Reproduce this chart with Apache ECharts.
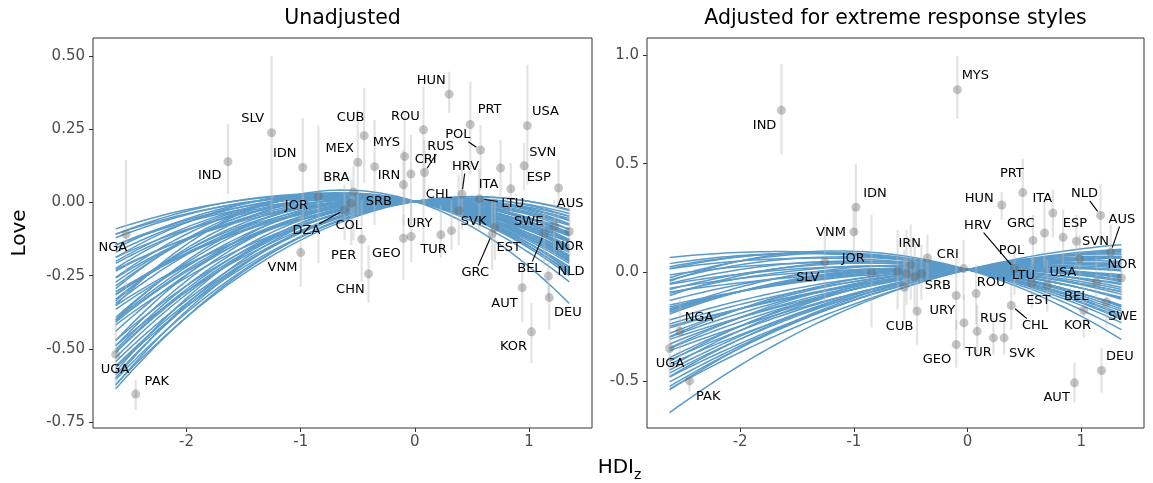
<!DOCTYPE html>
<html>
<head>
<meta charset="utf-8">
<script src="https://cdn.jsdelivr.net/npm/echarts@6/dist/echarts.min.js"></script>
<style>
  html, body { margin: 0; padding: 0; background: #fff; }
  #chart { width: 1153px; height: 483px; }
</style>
</head>
<body>
<div id="chart"></div>
<script>
// ---- data ----
const countries = ['UGA','NGA','PAK','IND','SLV','VNM','IDN','JOR','DZA','COL','BRA','MEX','PER','CUB','CHN',
  'IRN','SRB','GEO','MYS','CRI','URY','ROU','RUS','TUR','HUN','SVK','CHL','HRV','PRT','LTU','POL','GRC','EST',
  'ITA','ESP','AUT','SVN','USA','KOR','BEL','NLD','DEU','SWE','AUS','NOR'];
const hdi = [-2.62,-2.53,-2.445,-1.637,-1.255,-1.0,-0.982,-0.845,-0.616,-0.557,-0.537,-0.50,-0.466,-0.444,-0.406,
  -0.353,-0.10,-0.10,-0.09,-0.035,-0.032,0.075,0.084,0.227,0.30,0.321,0.384,0.412,0.485,0.565,0.575,0.676,0.70,
  0.75,0.84,0.94,0.957,0.985,1.021,1.132,1.169,1.177,1.221,1.258,1.352];

// unadjusted
const loveRaw = [-0.519,-0.108,-0.655,0.140,0.239,-0.171,0.120,0.022,-0.025,-0.002,0.036,0.138,-0.125,0.229,-0.244,
  0.123,0.061,-0.122,0.158,0.098,-0.116,0.249,0.103,-0.110,0.371,-0.096,-0.027,0.029,0.267,0.013,0.180,-0.107,-0.086,
  0.118,0.047,-0.291,0.126,0.263,-0.442,-0.105,-0.251,-0.325,-0.080,0.050,-0.099];
const loveRawLo = [-0.639,-0.333,-0.709,0.030,-0.035,-0.289,-0.076,-0.207,-0.128,-0.145,-0.128,-0.042,-0.272,0.067,-0.343,
  -0.076,-0.076,-0.265,-0.008,-0.076,-0.203,-0.145,-0.008,-0.189,0.307,-0.162,-0.145,-0.093,0.095,-0.093,0.043,-0.230,-0.196,
  0.009,-0.035,-0.409,0.043,0.061,-0.549,-0.213,-0.333,-0.436,-0.179,-0.059,-0.179];
const loveRawHi = [-0.395,0.146,-0.607,0.269,0.502,-0.042,0.290,0.263,0.061,0.078,0.126,0.317,0.009,0.393,-0.145,
  0.283,0.180,-0.042,0.317,0.232,0.009,0.400,0.215,-0.008,0.448,0.009,0.095,0.146,0.413,0.112,0.266,0.026,0.009,
  0.215,0.136,-0.196,0.204,0.472,-0.343,-0.008,-0.162,-0.285,0.009,0.146,-0.008];
// repelled label spots [hdi, love] for the unadjusted panel
const rawLabelSpots = [[-2.627,-0.571],[-2.645,-0.155],[-2.26,-0.611],[-1.796,0.091],[-1.42,0.287],[-1.16,-0.223],
  [-1.14,0.167],[-1.038,-0.010],[-0.95,-0.096],[-0.58,-0.080],[-0.688,0.084],[-0.659,0.186],[-0.624,-0.183],
  [-0.563,0.291],[-0.565,-0.297],[-0.227,0.091],[-0.315,0.003],[-0.25,-0.173],[-0.25,0.205],[0.094,0.146],
  [0.041,-0.071],[-0.084,0.295],[0.225,0.190],[0.164,-0.160],[0.143,0.418],[0.514,-0.065],[0.21,0.026],
  [0.444,0.123],[0.654,0.317],[0.857,-0.004],[0.376,0.232],[0.528,-0.240],[0.822,-0.154],[0.645,0.061],
  [1.085,0.086],[0.785,-0.345],[1.12,0.171],[1.143,0.310],[0.864,-0.493],[1.003,-0.225],[1.368,-0.236],
  [1.339,-0.377],[0.997,-0.065],[1.36,-0.002],[1.353,-0.151]];
const rawLeaders = ['DZA','RUS','HRV','LTU','POL','GRC','BEL'];

// adjusted for extreme response styles
const loveAdj = [-0.351,-0.272,-0.500,0.746,0.048,0.186,0.300,-0.003,0.005,-0.069,-0.006,0.035,-0.021,-0.179,-0.006,
  0.066,-0.107,-0.333,0.841,0.017,-0.233,-0.098,-0.272,-0.302,0.310,-0.302,-0.153,0.017,0.367,-0.049,0.147,0.181,-0.061,
  0.273,0.161,-0.509,0.143,0.062,-0.175,-0.046,0.262,-0.452,-0.138,0.092,-0.026];
const loveAdjLo = [-0.480,-0.402,-0.549,0.542,-0.139,0.081,0.173,-0.254,-0.172,-0.218,-0.149,-0.126,-0.172,-0.333,-0.126,
  -0.057,-0.264,-0.439,0.707,-0.126,-0.356,-0.241,-0.393,-0.379,0.243,-0.379,-0.264,-0.103,0.220,-0.162,0.035,0.022,-0.181,
  0.160,0.035,-0.600,0.022,-0.057,-0.301,-0.172,0.127,-0.554,-0.254,-0.034,-0.126];
const loveAdjHi = [-0.208,-0.126,-0.480,0.960,0.224,0.298,0.500,0.266,0.196,0.104,0.196,0.220,0.150,-0.034,0.127,
  0.173,0.068,-0.218,0.997,0.150,-0.103,0.035,-0.149,-0.208,0.371,-0.208,-0.057,0.127,0.523,0.068,0.265,0.335,0.058,
  0.381,0.289,-0.416,0.265,0.173,-0.057,0.068,0.408,-0.347,-0.024,0.220,0.081];
const adjLabelSpots = [[-2.616,-0.422],[-2.362,-0.207],[-2.28,-0.571],[-1.785,0.676],[-1.405,-0.023],[-1.201,0.181],
  [-0.814,0.362],[-1.006,0.062],null,null,null,null,null,[-0.598,-0.249],null,
  [-0.509,0.131],[-0.262,-0.061],[-0.270,-0.402],[0.068,0.907],[-0.174,0.081],[-0.223,-0.176],[0.206,-0.046],
  [0.226,-0.214],[0.097,-0.371],[0.103,0.339],[0.477,-0.374],[0.593,-0.245],[0.088,0.215],[0.389,0.453],
  [0.491,-0.015],[0.386,0.100],[0.468,0.224],[0.622,-0.129],[0.657,0.338],[0.943,0.224],[0.783,-0.578],
  [1.124,0.143],[0.838,0.0],[0.967,-0.245],[0.955,-0.113],[1.028,0.361],[1.339,-0.389],[1.363,-0.205],
  [1.357,0.243],[1.357,0.034]];
const adjLeaders = ['CHL','HRV','NLD','AUS'];

// posterior quadratic fits: value at lowest HDI, at HDI 0, at highest HDI
const rawFitAtZero = 0.004;
const rawFitLow = [-0.090,-0.108,-0.108,-0.156,-0.188,-0.145,-0.201,-0.256,-0.294,-0.145,-0.208,-0.272,-0.336,-0.187,
  -0.258,-0.330,-0.401,-0.234,-0.314,-0.393,-0.472,-0.229,-0.316,-0.403,-0.490,-0.313,-0.408,-0.503,-0.579,-0.305,
  -0.408,-0.511,-0.600,-0.365,-0.513,-0.624,-0.352,-0.471,-0.589,-0.418,-0.544,-0.637,-0.489,-0.605,-0.565,-0.622,-0.350,
  -0.120,-0.170,-0.225,-0.285,-0.345,-0.440,-0.530,-0.560];
const rawFitHigh = [-0.135,-0.163,-0.126,-0.182,-0.219,-0.134,-0.185,-0.237,-0.271,-0.107,-0.155,-0.202,-0.250,-0.112,
  -0.156,-0.199,-0.243,-0.114,-0.154,-0.193,-0.233,-0.091,-0.126,-0.161,-0.197,-0.101,-0.132,-0.163,-0.189,-0.078,
  -0.105,-0.133,-0.156,-0.074,-0.105,-0.128,-0.054,-0.073,-0.092,-0.047,-0.062,-0.073,-0.037,-0.047,-0.024,-0.027,-0.345,
  -0.145,-0.170,-0.208,-0.225,-0.180,-0.150,-0.110,-0.060];
const adjFitAtZero = 0.012;
const adjFitLow = [0.068,0.026,0.017,-0.025,-0.041,0.016,-0.079,-0.107,-0.012,-0.097,-0.174,-0.055,-0.184,-0.073,-0.168,
  -0.160,-0.297,-0.151,-0.281,-0.238,-0.410,-0.299,-0.256,-0.393,-0.351,-0.480,-0.309,-0.404,-0.464,-0.422,-0.525,
  -0.482,-0.537,-0.646,-0.192,-0.052,-0.349,-0.248,-0.361,-0.176,-0.436,-0.541,-0.035,-0.091,
  0.040,-0.130,-0.220,-0.330,-0.450,-0.505];
const adjFitHigh = [-0.178,-0.209,-0.232,-0.264,-0.309,-0.151,-0.155,-0.201,-0.115,-0.119,-0.160,-0.088,-0.101,-0.051,
  -0.056,-0.034,-0.070,-0.011,-0.025,0.007,-0.038,0.011,0.043,0.007,0.038,0.024,0.070,0.065,0.070,0.101,0.074,
  0.106,0.127,0.083,-0.124,-0.169,-0.043,0.066,0.097,-0.079,-0.025,0.029,-0.217,-0.015,
  -0.190,-0.090,-0.020,0.020,0.050,0.090];

const xTicks = [-2, -1, 0, 1];
const rawTicks = [-0.75, -0.5, -0.25, 0, 0.25, 0.5];
const adjTicks = [-0.5, 0, 0.5, 1];

// ---- chart ----
const FONT = 'DejaVu Sans';
const chart = echarts.init(document.getElementById('chart'), null, { renderer: 'canvas' });
const hdiMin = Math.min(...hdi), hdiMax = Math.max(...hdi);

function fitCurve(yLow, yZero, yHigh) {
  const sL = (yLow - yZero) / hdiMin, sR = (yHigh - yZero) / hdiMax;
  const c = (sL - sR) / (hdiMin - hdiMax);
  const b = sL - c * hdiMin;
  const pts = [];
  for (let i = 0; i <= 60; i++) {
    const x = hdiMin + (hdiMax - hdiMin) * i / 60;
    pts.push([x, yZero + b * x + c * x * x]);
  }
  return pts;
}

const series = [];
function addPanel(p, lows, zero, highs, y, lo, hi, spots, leaders) {
  lows.forEach((l, k) => {
    series.push({
      type: 'line', xAxisIndex: p, yAxisIndex: p, data: fitCurve(l, zero, highs[k]),
      showSymbol: false, symbol: 'none', silent: true, z: 1,
      lineStyle: { color: '#5b9bc9', width: 1.5 }
    });
  });
  series.push({
    type: 'custom', xAxisIndex: p, yAxisIndex: p, z: 2, silent: true,
    data: hdi.map((h, i) => [h, lo[i], hi[i]]),
    encode: { x: 0, y: [1, 2] },
    renderItem: (params, api) => {
      const a = api.coord([api.value(0), api.value(1)]);
      const b = api.coord([api.value(0), api.value(2)]);
      return { type: 'line', shape: { x1: a[0], y1: a[1], x2: b[0], y2: b[1] },
        style: { stroke: 'rgba(185,185,185,0.4)', lineWidth: 2.2 } };
    }
  });
  series.push({
    type: 'scatter', xAxisIndex: p, yAxisIndex: p, z: 3, silent: true,
    data: hdi.map((h, i) => [h, y[i]]), symbolSize: 9,
    itemStyle: { color: 'rgba(95,95,95,0.45)' }
  });
  const lab = [];
  countries.forEach((c, i) => {
    if (spots[i]) lab.push([spots[i][0], spots[i][1], hdi[i], y[i], leaders.includes(c) ? 1 : 0, i]);
  });
  series.push({
    type: 'custom', xAxisIndex: p, yAxisIndex: p, z: 4, silent: true, clip: false,
    data: lab, encode: { x: 0, y: 1 },
    renderItem: (params, api) => {
      const name = countries[api.value(5)];
      const c = api.coord([api.value(0), api.value(1)]);
      const children = [{
        type: 'text', x: c[0], y: c[1],
        style: { text: name, fill: '#000', fontSize: 13, fontFamily: FONT, align: 'center', verticalAlign: 'middle' }
      }];
      if (api.value(4) === 1) {
        const pt = api.coord([api.value(2), api.value(3)]);
        const dx = pt[0] - c[0], dy = pt[1] - c[1];
        const len = Math.hypot(dx, dy);
        const hw = name.length * 4.6 + 1, hh = 7;
        const t = Math.min(dx ? hw / Math.abs(dx) : Infinity, dy ? hh / Math.abs(dy) : Infinity);
        if (t < 1 && len > 8) {
          children.push({ type: 'line',
            shape: { x1: c[0] + dx * t, y1: c[1] + dy * t, x2: pt[0] - dx / len * 5, y2: pt[1] - dy / len * 5 },
            style: { stroke: '#000', lineWidth: 1.1 } });
        }
      }
      return { type: 'group', children };
    }
  });
}
addPanel(0, rawFitLow, rawFitAtZero, rawFitHigh, loveRaw, loveRawLo, loveRawHi, rawLabelSpots, rawLeaders);
addPanel(1, adjFitLow, adjFitAtZero, adjFitHigh, loveAdj, loveAdjLo, loveAdjHi, adjLabelSpots, adjLeaders);

const tickStyle = { show: true, length: 4, lineStyle: { color: '#333', width: 1 } };
function xAxis(i) {
  return {
    type: 'value', gridIndex: i, min: -2.819, max: 1.551, position: 'bottom',
    splitLine: { show: false }, axisLine: { show: false, onZero: false },
    axisTick: Object.assign({ customValues: xTicks }, tickStyle),
    axisLabel: { customValues: xTicks, color: '#4d4d4d', fontSize: 15, fontFamily: FONT, margin: 7,
      formatter: v => String(v) }
  };
}
function yAxis(i, min, max, ticks, dec) {
  return {
    type: 'value', gridIndex: i, min, max, position: 'left',
    splitLine: { show: false }, axisLine: { show: false, onZero: false },
    axisTick: Object.assign({ customValues: ticks }, tickStyle),
    axisLabel: { customValues: ticks, color: '#4d4d4d', fontSize: 15, fontFamily: FONT, margin: 8,
      formatter: v => v.toFixed(dec) }
  };
}

const txt = (text, x, y, size, extra) => Object.assign({
  type: 'text', x, y, silent: true,
  style: { text, fill: '#000', fontSize: size, fontFamily: FONT, align: 'center', verticalAlign: 'middle' }
}, extra || {});

chart.setOption({
  animation: false,
  backgroundColor: '#fff',
  grid: [
    { left: 93, top: 38, width: 499, height: 390, show: true, borderColor: '#333', borderWidth: 1, backgroundColor: 'transparent' },
    { left: 647, top: 38, width: 497, height: 390, show: true, borderColor: '#333', borderWidth: 1, backgroundColor: 'transparent' }
  ],
  xAxis: [xAxis(0), xAxis(1)],
  yAxis: [yAxis(0, -0.771, 0.563, rawTicks, 2), yAxis(1, -0.717, 1.079, adjTicks, 1)],
  series,
  graphic: [
    txt('Unadjusted', 342.5, 19, 20.5),
    txt('Adjusted for extreme response styles', 895.5, 19, 20.5),
    txt('Love', 20, 233, 20, { rotation: Math.PI / 2 }),
    { type: 'text', x: 634, y: 468, silent: true,
      style: { text: 'HDI', fill: '#000', fontSize: 20, fontFamily: FONT, align: 'right', verticalAlign: 'middle' } },
    { type: 'text', x: 634, y: 475, silent: true,
      style: { text: 'z', fill: '#000', fontSize: 14, fontFamily: FONT, align: 'left', verticalAlign: 'middle' } }
  ]
});
</script>
</body>
</html>
